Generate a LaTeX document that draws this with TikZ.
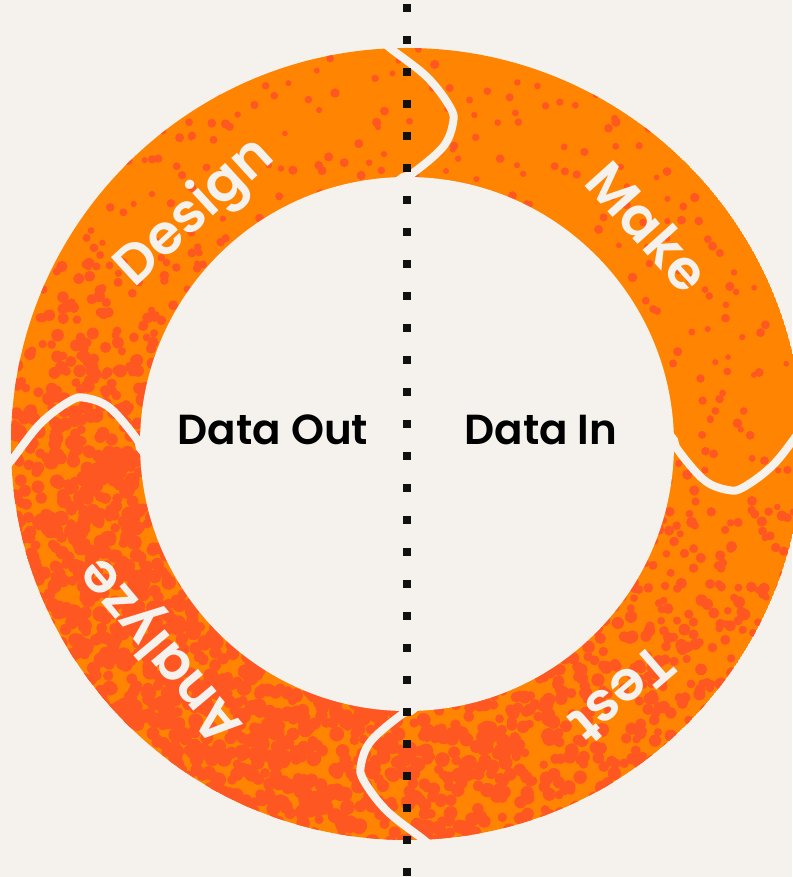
\documentclass[tikz,border=0pt]{standalone}
\usepackage{fontspec}
\setmainfont{Poppins}[BoldFont={Poppins SemiBold}]
\definecolor{bgc}{HTML}{F5F2EE}
\definecolor{orangec}{HTML}{FF8401}
\definecolor{dotc}{HTML}{FF5722}
\definecolor{inkc}{HTML}{111111}
\begin{document}
\begin{tikzpicture}[x=1pt,y=1pt,
  sep/.style={draw=bgc,line width=8pt,line cap=round},
  ringlabel/.style={text=bgc,font=\fontsize{55}{64}\selectfont\bfseries,anchor=center,inner sep=0pt},
  datalabel/.style={text=black,font=\fontsize{42}{50}\selectfont\bfseries,anchor=base,inner sep=0pt},
  dotline/.style={draw=inkc,line width=8pt,dash pattern=on 8pt off 24pt}]
\useasboundingbox (-407,-433) rectangle (385,444);
\fill[bgc] (-407,-433) rectangle (385,444);
\pgfmathsetseed{11}
\begin{scope}
  \clip (0,0) circle (396pt);
  \fill[orangec] (0,0) circle (396pt);
  \foreach \ta/\ca/\tb/\cb in {0/0.06/90/0.07, 90/0.07/100/0.20, 100/0.20/140/0.52, 140/0.52/180/0.72, 180/0.72/230/0.82, 230/0.82/270/0.76, 270/0.76/285/0.50, 285/0.50/305/0.14, 305/0.14/330/0.06, 330/0.06/360/0.06}{
    \pgfmathtruncatemacro\nb{(\tb-\ta)/2.5}
    \foreach \k in {1,...,\nb}{
      \pgfmathsetmacro\tmid{\ta+(\k-0.5)*2.5}
      \pgfmathsetmacro\cc{\ca+(\cb-\ca)*(\k-0.5)/\nb}
      \pgfmathsetmacro\rr{3.6+3.4*\cc}
      \pgfmathtruncatemacro\nd{max(1,round(-ln(1-\cc)*1866/(3.1416*\rr*\rr)))}
      \foreach \j in {1,...,\nd}{
        \pgfmathsetmacro\ang{90-(\tmid-1.25+2.5*rnd)}
        \pgfmathsetmacro\rdist{100*sqrt(6.8644+rnd*9.216)}
        \pgfmathsetmacro\dr{\rr*(0.75+0.5*rnd)}
        \fill[dotc] (\ang:\rdist pt) circle (\dr pt);
      }
    }
  }
\end{scope}
\fill[bgc] (0,0) circle (267pt);
\foreach \r in {0,-90,-180,-270}{
  \draw[sep,rotate=\r] plot[smooth,tension=0.6] coordinates {(-30,408) (-17,396) (20,367) (43,337) (46,321) (36,297) (6,271) (-4,267) (-14,258)};
}
\node[ringlabel,rotate=42.5] (design) at (132.5:313pt) {Design};
\node[ringlabel,rotate=-48] (make) at (42:325pt) {Make};
\node[ringlabel,rotate=-139.3] (test) at (-49.3:330pt) {Test};
\node[ringlabel,rotate=130] (analyze) at (220:318pt) {Analyze};
\node[datalabel] (dout) at (-134,-1) {Data Out};
\node[datalabel] (din) at (134,-1) {Data In};
\coordinate (ltop) at (0,440);
\coordinate (lbot) at (0,-433);
\draw[dotline] (ltop) -- (lbot);
\end{tikzpicture}
\end{document}
